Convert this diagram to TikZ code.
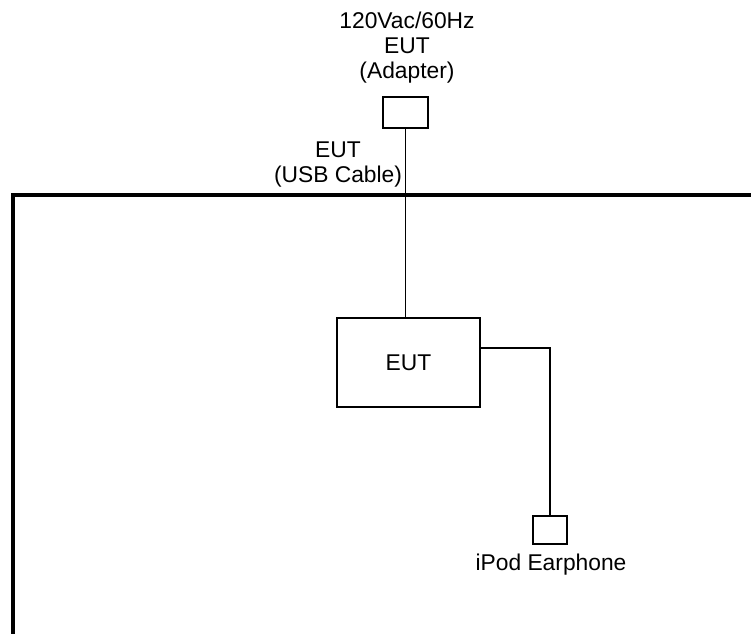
\documentclass[tikz,border=0pt]{standalone}
\usepackage{fontspec}
\setmainfont{Liberation Sans}
\tikzset{
	unit/.style={rectangle, draw, line width=1.8pt, inner sep=0pt},
	cable/.style={line width=1.8pt},
	lbl/.style={align=center, inner sep=0pt, font=\fontsize{22.8}{25}\selectfont}
}
\begin{document}
\begin{tikzpicture}[x=1pt,y=-1pt]
	\useasboundingbox (0,0) rectangle (751,634);

	% table outline
	\draw[line width=3.5pt] (751,195) -- (13,195) -- (13,634);

	\node 	(adapter)	at	(405.5,112.5) 	[unit, minimum width=45pt, minimum height=31pt]{};
	\node 	(eut)		at	(408.5,362.5) 	[unit, minimum width=143pt, minimum height=89pt]{};
	\node 	(phone)		at	(550,530) 	[unit, minimum width=34pt, minimum height=28pt]{};

	\node 	(eutlbl)	at	(eut) 	[lbl]{EUT};
	\node 	(adlbl)		at	(407,83) 	[lbl, anchor=south]{120Vac/60Hz\\EUT\\(Adapter)};
	\node 	(usblbl)	at	(338,187) 	[lbl, anchor=south]{EUT\\(USB Cable)};
	\node 	(phonelbl)	at	(551,570) 	[lbl, anchor=base]{iPod Earphone};

	\draw[cable] (adapter.south) -- (adapter.south |- eut.north);
	\draw[cable] (eut.east |- 0,348) -| (phone.north);

\end{tikzpicture}
\end{document}
